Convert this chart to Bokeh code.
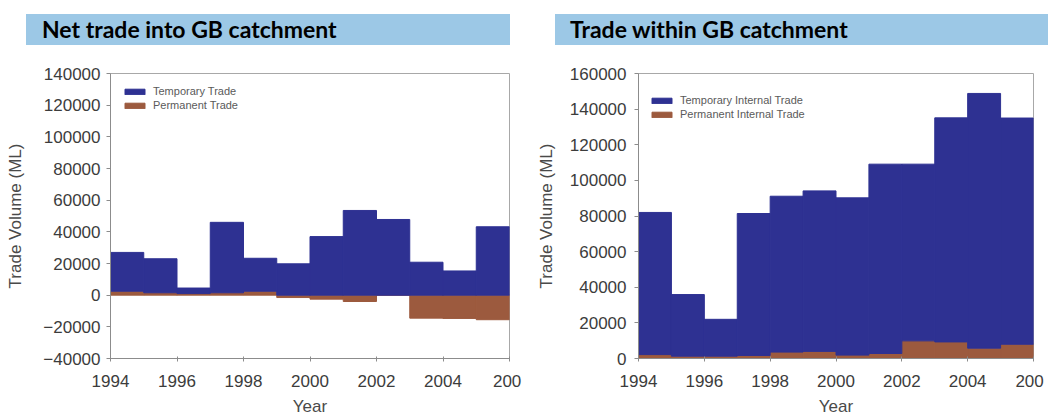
import numpy as np
from bokeh.plotting import figure
from bokeh.models import (Div, Legend, LegendItem, Range1d, FixedTicker,
                          BasicTickFormatter, ColumnDataSource)
from bokeh.layouts import row, column
from bokeh.embed import file_html
from bokeh.resources import INLINE

# ---------------- data ----------------
years = [1994, 1995, 1996, 1997, 1998, 1999, 2000, 2001, 2002, 2003, 2004, 2005]

# Net trade into GB catchment (ML)
net_temporary = [24500, 21500, 3500, 44500, 20800, 19800, 37000, 53500, 47800, 20800, 15300, 43200]
net_permanent = [2500, 1500, 1000, 1500, 2500, -1500, -2500, -4000, 0, -14500, -14700, -15500]

# Trade within GB catchment (ML)
int_temporary = [79800, 34600, 20700, 79700, 87500, 90100, 88300, 106300, 99200, 125800, 143000, 127000]
int_permanent = [2200, 1300, 1300, 1700, 3600, 4000, 1900, 2800, 9900, 9300, 5800, 8000]

x_ticks = [1994, 1996, 1998, 2000, 2002, 2004, 2006]
x_tick_labels = ["1994", "1996", "1998", "2000", "2002", "2004", "200\u00a0"]
net_y_ticks = [-40000, -20000, 0, 20000, 40000, 60000, 80000, 100000, 120000, 140000]
int_y_ticks = [0, 20000, 40000, 60000, 80000, 100000, 120000, 140000, 160000]

titles = ["Net trade into GB catchment", "Trade within GB catchment"]
net_labels = ["Temporary Trade", "Permanent Trade"]
int_labels = ["Temporary Internal Trade", "Permanent Internal Trade"]

BLUE = "#2E3192"
BROWN = "#9C5A3E"
BAR = "#9CC8E6"
AXIS = "#8C8C8C"
TXT = "#3C3C3C"
FONT = "Liberation Sans"


def title_div(text, width, bar_left, bar_width, pad):
    html = (
        f'<div style="box-sizing:border-box;width:{width}px;height:65px;'
        f'padding:14px 0 0 {bar_left}px;margin:0;overflow:hidden;">'
        f'<div style="width:{bar_width}px;height:31px;margin:0;'
        f'background:{BAR};box-sizing:border-box;padding-left:{pad}px;'
        f'font-family:Lato,sans-serif;font-weight:bold;font-size:23px;line-height:31px;'
        f'color:#000;white-space:nowrap;overflow:hidden;">{text}</div></div>'
    )
    return Div(text=html, width=width, height=65, margin=(0, 0, 0, 0))


def make_fig(temp, perm, y_lo, y_hi, y_ticks, width, mb_left, mb_right,
             labels, leg_xy, ylab_standoff, tick_standoff):
    p = figure(width=width, height=353, x_range=Range1d(1994, 2006),
               y_range=Range1d(y_lo, y_hi), output_backend="svg",
               toolbar_location=None, min_border_left=mb_left,
               min_border_right=mb_right, min_border_top=8, min_border_bottom=59)
    left = np.array(years, dtype=float)
    perm = np.array(perm, dtype=float)
    temp = np.array(temp, dtype=float)
    base = np.maximum(perm, 0)
    src = ColumnDataSource(dict(left=left, right=left + 1, zero=np.zeros_like(perm),
                                perm=perm, base=base, top=base + temp))
    r_perm = p.quad(left="left", right="right", bottom="zero", top="perm", source=src,
                    fill_color=BROWN, line_color=BROWN, line_width=1)
    r_temp = p.quad(left="left", right="right", bottom="base", top="top", source=src,
                    fill_color=BLUE, line_color=BLUE, line_width=1)

    p.grid.visible = False
    p.outline_line_color = "#A8A8A8"
    p.background_fill_color = "white"

    xa = p.xaxis[0]
    xa.ticker = FixedTicker(ticks=x_ticks)
    xa.major_label_overrides = {t: l for t, l in zip(x_ticks, x_tick_labels)}
    xa.axis_label = "Year"
    xa.major_tick_in = 2
    xa.major_tick_out = 3
    xa.major_label_standoff = 10
    xa.axis_label_standoff = 3

    ya = p.yaxis[0]
    ya.ticker = FixedTicker(ticks=y_ticks)
    ya.formatter = BasicTickFormatter(use_scientific=False)
    ya.axis_label = "Trade Volume (ML)"
    ya.major_tick_in = 0
    ya.major_tick_out = 4
    ya.major_label_standoff = tick_standoff
    ya.axis_label_standoff = ylab_standoff

    for ax in (xa, ya):
        ax.axis_line_color = AXIS
        ax.major_tick_line_color = AXIS
        ax.minor_tick_line_color = None
        ax.major_label_text_font = FONT
        ax.major_label_text_font_size = "17px"
        ax.major_label_text_color = TXT
        ax.axis_label_text_font = FONT
        ax.axis_label_text_font_size = "17px"
        ax.axis_label_text_font_style = "normal"
        ax.axis_label_text_color = "#4A4A4A"

    leg = Legend(items=[LegendItem(label=labels[0], renderers=[r_temp]),
                        LegendItem(label=labels[1], renderers=[r_perm])],
                 location=leg_xy, orientation="vertical",
                 border_line_color=None, background_fill_alpha=0,
                 padding=0, margin=0, spacing=0,
                 glyph_width=25, glyph_height=7, label_height=14,
                 label_standoff=6, label_text_font=FONT,
                 label_text_font_size="11px", label_text_color="#5A5A5A")
    p.add_layout(leg)
    return p


p1 = make_fig(net_temporary, net_permanent, -40000, 140000, net_y_ticks,
              528, 110, 19, net_labels, (12, 246), 15, 6)
p2 = make_fig(int_temporary, int_permanent, 0, 160000, int_y_ticks,
              520, 110, 15, int_labels, (11, 237), 11, 8)

d1 = title_div(titles[0], 528, 26, 484, 16)
d2 = title_div(titles[1], 520, 27, 510, 15)

layout = row(column(d1, p1), column(d2, p2))

open("out.html", "w").write(file_html(layout, INLINE))
